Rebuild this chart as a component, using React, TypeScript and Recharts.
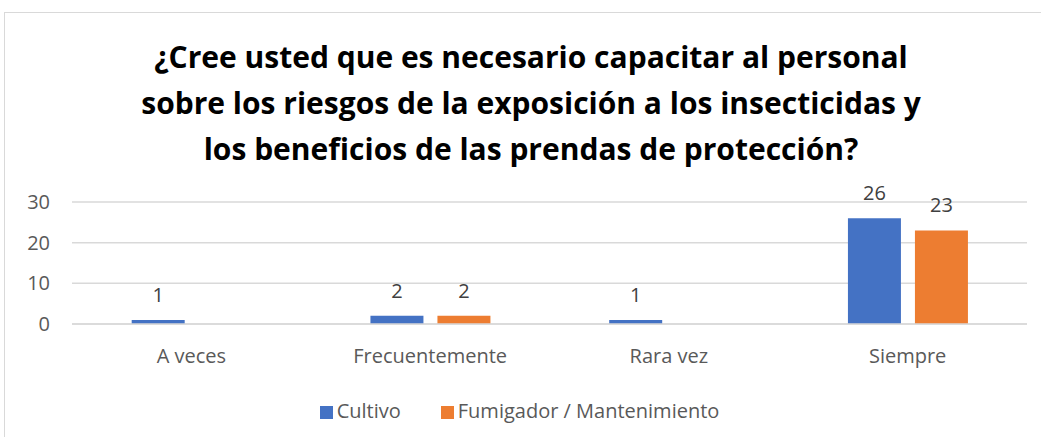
import { BarChart, Bar, XAxis, YAxis, CartesianGrid, Legend, LabelList } from 'recharts';

const categorias = ['A veces', 'Frecuentemente', 'Rara vez', 'Siempre'];
const cultivo = [1, 2, 1, 26];
const fumigador = [null, 2, null, 23];
const yTicks = [0, 10, 20, 30];

const tituloLineas = [
  '¿Cree usted que es necesario capacitar al personal',
  'sobre los riesgos de la exposición a los insecticidas y',
  'los beneficios de las prendas de protección?',
];

const data = categorias.map((cat, i) => ({
  name: cat,
  cultivo: cultivo[i],
  fumigador: fumigador[i],
}));

const FONT = '"Open Sans", sans-serif';

export default function App() {
  return (
    <div style={{ position: 'absolute', left: 0, top: 0, width: 1041, height: 437, background: '#fff', overflow: 'hidden', fontFamily: FONT }}>
      <div style={{ position: 'absolute', left: 4, top: 12, width: 1100, height: 500, border: '1px solid #d9d9d9' }} />
      <div style={{ position: 'absolute', left: 0, top: 34, width: 1062, textAlign: 'center', fontWeight: 700, fontSize: 30, lineHeight: '46px', color: '#000' }}>
        {tituloLineas.map((l) => (
          <div key={l}>{l}</div>
        ))}
      </div>
      <div style={{ position: 'absolute', left: 0, top: 0 }}>
        <BarChart
          width={1041}
          height={437}
          data={data}
          margin={{ top: 202, right: 14, bottom: 0, left: 0 }}
          barCategoryGap="25%"
          barGap={14}
        >
          <CartesianGrid vertical={false} stroke="#d9d9d9" strokeWidth={1.5} />
          <XAxis
            dataKey="name"
            axisLine={{ stroke: '#d9d9d9', strokeWidth: 1.5 }}
            tickLine={false}
            tick={{ fill: '#595959', fontSize: 20, fontFamily: FONT }}
            tickMargin={19}
            height={60}
          />
          <YAxis
            domain={[0, 30]}
            ticks={yTicks}
            axisLine={false}
            tickLine={false}
            tickSize={0}
            tickMargin={22}
            width={72}
            tick={{ fill: '#595959', fontSize: 20, fontFamily: FONT }}
          />
          <Legend
            verticalAlign="bottom"
            iconType="square"
            iconSize={13}
            height={40}
            wrapperStyle={{ fontSize: 20, color: '#595959', fontFamily: FONT, paddingTop: 13, paddingLeft: 26 }}
            formatter={(v: any) => <span style={{ color: '#595959', marginRight: 30 }}>{v}</span>}
          />
          <Bar dataKey="cultivo" name="Cultivo" fill="#4472C4" isAnimationActive={false}>
            <LabelList dataKey="cultivo" position="top" offset={18} fill="#404040" fontSize={20} fontFamily={FONT} formatter={(v: any) => (v == null ? '' : v)} />
          </Bar>
          <Bar dataKey="fumigador" name="Fumigador / Mantenimiento" fill="#ED7D31" isAnimationActive={false}>
            <LabelList dataKey="fumigador" position="top" offset={18} fill="#404040" fontSize={20} fontFamily={FONT} formatter={(v: any) => (v == null ? '' : v)} />
          </Bar>
        </BarChart>
      </div>
    </div>
  );
}
